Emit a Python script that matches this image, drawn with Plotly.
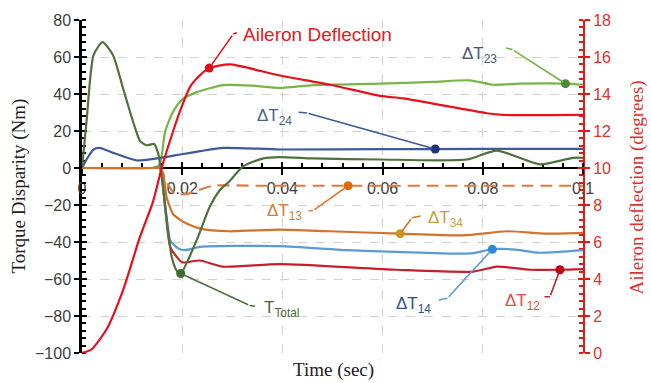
import numpy as np
import plotly.graph_objects as go

# ---------------------------------------------------------------
# Torque disparity between motor pairs (Nm) and aileron deflection
# (degrees) over the first 0.1 s of the manoeuvre
# ---------------------------------------------------------------

# total torque
t_total_t = [0, 0.0009, 0.0023, 0.0041, 0.0062, 0.0082, 0.0102, 0.0116, 0.0129, 0.0144,
             0.0152, 0.0157, 0.0169, 0.0179, 0.0189, 0.0197, 0.0229, 0.0255, 0.0275, 0.0295,
             0.0322, 0.0362, 0.0395, 0.0462, 0.0595, 0.0768, 0.0828, 0.0914, 0.0980, 0.1]
t_total_v = [0, 25, 61, 68, 61, 43, 25, 14.5, 12.3, 13,
             8, 0, -27, -48, -55.5, -57, -39, -21, -12, -7,
             1, 5.2, 5.9, 5.2, 4.6, 4.6, 9.4, 2, 5.5, 5.5]

# motor pair 2-3
dt23_t = [0, 0.0140, 0.0152, 0.0158, 0.0166, 0.0182, 0.0200, 0.0229, 0.0282, 0.0340,
          0.0395, 0.0462, 0.0595, 0.0700, 0.0774, 0.0821, 0.0874, 0.0965, 0.1]
dt23_v = [0, 0, 1, 5, 19.8, 30.5, 37, 41, 44.8, 44.5,
          43.3, 44.8, 45.6, 46.5, 47.4, 45, 45.6, 45.6, 45]

# motor pair 2-4
dt24_t = [0, 0.0010, 0.0023, 0.0035, 0.0062, 0.0109, 0.0149, 0.0196, 0.0236, 0.0282,
          0.0395, 0.0600, 0.0800, 0.1]
dt24_v = [0, 5, 10, 10.9, 8.2, 4.1, 5.2, 7.3, 9.1, 10.9,
          10, 10.2, 10.3, 10.3]

# motor pair 1-3
dt13_t = [0, 0.0140, 0.0155, 0.0170, 0.0185, 0.0210, 0.0229, 0.0262, 0.0350, 0.0500,
          0.0700, 0.0900, 0.1]
dt13_v = [0, 0, 0, -8, -14, -14, -12.3, -9.6, -9.6, -9.6,
          -9.6, -9.6, -9.6]

# motor pair 3-4
dt34_t = [0, 0.0140, 0.0155, 0.0162, 0.0169, 0.0182, 0.0196, 0.0209, 0.0236, 0.0295,
          0.0395, 0.0495, 0.0635, 0.0761, 0.0848, 0.0927, 0.1]
dt34_v = [0, 0, 0, -3, -16, -25, -28, -30, -32.8, -34.2,
          -33.3, -34.2, -35.5, -36.4, -34.2, -35.5, -35.1]

# motor pair 1-4
dt14_t = [0, 0.0140, 0.0155, 0.0160, 0.0166, 0.0176, 0.0192, 0.0206, 0.0236, 0.0395,
          0.0528, 0.0628, 0.0774, 0.0820, 0.0861, 0.0914, 0.1]
dt14_v = [0, 0, 0, -5, -21, -39, -43.5, -44.4, -42.6, -42.2,
          -44.4, -45.3, -46.2, -43.9, -44, -45.8, -44.4]

# motor pair 1-2
dt12_t = [0, 0.0140, 0.0155, 0.0160, 0.0166, 0.0176, 0.0189, 0.0200, 0.0235, 0.0280,
          0.0395, 0.0628, 0.0781, 0.0828, 0.0894, 0.0954, 0.1]
dt12_v = [0, 0, 0, -6, -22, -42.6, -48, -51, -50, -53.3,
          -52, -55, -56, -53.3, -55, -55, -54.7]

# aileron deflection (degrees, right axis)
aileron_t = [0, 0.0019, 0.0049, 0.0082, 0.0116, 0.0142, 0.0159, 0.0182, 0.0196, 0.0216,
             0.0235, 0.0254, 0.0295, 0.0395, 0.0495, 0.0595, 0.0641, 0.0808, 0.0840, 0.1]
aileron_deg = [0, 0.2, 1.28, 3.4, 6.3, 8.2, 10, 12, 13.1, 14.4,
               15.0, 15.4, 15.6, 15.0, 14.5, 13.9, 13.76, 12.96, 12.87, 12.87]

# callout positions along each curve (s)
marker_times = {
    "aileron": 0.0254, "dt23": 0.0965, "dt24": 0.0705, "dt13": 0.0531,
    "dt34": 0.0635, "total": 0.0197, "dt14": 0.0819, "dt12": 0.0954,
}

X_RANGE = [0, 0.1]
Y_RANGE = [-100, 80]
Y2_RANGE = [0, 18]
x_tickvals = [0, 0.02, 0.04, 0.06, 0.08, 0.1]
x_ticktext = ["0", "0.02", "0.04", "0.06", "0.08", "0.1"]

W, H = 651, 383
M = dict(l=82, r=68, t=17, b=30)
PW, PH = W - M["l"] - M["r"], H - M["t"] - M["b"]


def paper_x(px):
    return (px - M["l"]) / PW


def paper_y(py):
    return (H - M["b"] - py) / PH


SANS = "Liberation Sans, Arial, sans-serif"
SERIF = "Liberation Serif, Times New Roman, serif"

# (key, t, v, axis, line colour, dash, marker colour, label, label colour,
#  label anchor, label shift (dx, dy px), elbow (dx, dy px), stub (dx, dy px), font size)
# drawn in this order, so the 3-4 pair ends up on top along the zero line
series = [
    ("dt23", dt23_t, dt23_v, "y", "#78b446", "solid", "#4f8a3a",
     "ΔT<sub>23</sub>", "#4c5470", "right", (-66, -29), (-53, -34), (-61, -36), 17),
    ("dt24", dt24_t, dt24_v, "y", "#3d5a99", "solid", "#1f3378",
     "ΔT<sub>24</sub>", "#4a5f8a", "right", (-141, -32), (-128, -36), (-138, -37), 17),
    ("dt12", dt12_t, dt12_v, "y", "#c4202c", "solid", "#c00010",
     "ΔT<sub>12</sub>", "#e04a4a", "right", (-18, 32), (-10, 27), (-17, 27), 17),
    ("dt14", dt14_t, dt14_v, "y", "#5b9bd5", "solid", "#2f86d6",
     "ΔT<sub>14</sub>", "#2f4f8f", "right", (-59, 56), (-45, 49), (-55, 51), 17),
    ("dt13", dt13_t, dt13_v, "y", "#e07b39", "12px,7px", "#e06a10",
     "ΔT<sub>13</sub>", "#d08040", "right", (-44, 26), (-35, 25), (-41, 25), 17),
    ("dt34", dt34_t, dt34_v, "y", "#d2722c", "solid", "#c8961e",
     "ΔT<sub>34</sub>", "#c8a040", "left", (26, -15), (12, -16), (22, -18), 17),
    ("total", t_total_t, t_total_v, "y", "#4f723c", "solid", "#3f6a30",
     "T<sub>Total</sub>", "#4a6a3a", "left", (81, 36), (69, 32), (76, 33), 17),
    ("aileron", aileron_t, aileron_deg, "y2", "#e8101a", "solid", "#d8101a",
     "Aileron Deflection", "#e02020", "left", (32, -34), (24, -34), (29, -36), 19),
]

fig = go.Figure()
annotations = []

for (key, t, v, axis, lc, dash, mc, label, tc, anchor, lshift, elbow, stub, fs) in series:
    fig.add_trace(go.Scatter(
        x=t, y=v, mode="lines", yaxis=axis, hoverinfo="skip",
        line=dict(color=lc, width=2.2, dash=dash, shape="spline", smoothing=0.6),
        showlegend=False,
    ))
    tm = marker_times[key]
    vm = float(np.interp(tm, t, v))
    fig.add_trace(go.Scatter(
        x=[tm], y=[vm], mode="markers", yaxis=axis, hoverinfo="skip",
        marker=dict(color=mc, size=9), showlegend=False,
    ))
    # leader line: marker -> elbow -> short stub towards the label
    annotations.append(dict(
        x=tm, y=vm, xref="x", yref=axis, text="", showarrow=True,
        arrowhead=0, arrowwidth=1.6, arrowcolor=lc, ax=elbow[0], ay=elbow[1],
        standoff=3,
    ))
    annotations.append(dict(
        x=tm, y=vm, xref="x", yref=axis, text="", showarrow=True,
        arrowhead=0, arrowwidth=1.6, arrowcolor=lc,
        xshift=elbow[0], yshift=-elbow[1],
        ax=stub[0] - elbow[0], ay=stub[1] - elbow[1],
    ))
    annotations.append(dict(
        x=tm, y=vm, xref="x", yref=axis, text=label, showarrow=False,
        xanchor=anchor, yanchor="middle", xshift=lshift[0], yshift=-lshift[1],
        font=dict(family=SANS, size=fs, color=tc),
    ))

# overlay axes give the crossing major ticks
fig.add_trace(go.Scatter(x=[None], y=[None], xaxis="x2", yaxis="y3", showlegend=False))
fig.add_trace(go.Scatter(x=[None], y=[None], xaxis="x2", yaxis="y4", showlegend=False))

pos0 = (0 - Y_RANGE[0]) / (Y_RANGE[1] - Y_RANGE[0])
grid = dict(showgrid=True, gridcolor="#d2d2d2", griddash="dash", gridwidth=1)
tickfont = dict(family=SANS, size=16, color="#404040")

fig.update_layout(
    width=W, height=H, margin=M,
    paper_bgcolor="white", plot_bgcolor="white",
    showlegend=False,
    xaxis=dict(
        range=X_RANGE, anchor="free", position=pos0, layer="below traces",
        tickvals=x_tickvals, ticktext=x_ticktext,
        ticks="outside", ticklen=6, tickwidth=2, tickcolor="black",
        showline=True, linecolor="black", linewidth=2, zeroline=False,
        minor=dict(ticks="inside", dtick=0.004, ticklen=4, tickwidth=1.5,
                   tickcolor="black", showgrid=False),
        tickfont=tickfont, **grid,
    ),
    xaxis2=dict(
        range=X_RANGE, overlaying="x", anchor="free", position=pos0,
        layer="below traces",
        tickvals=x_tickvals, ticks="inside", ticklen=6, tickwidth=2,
        tickcolor="black", showticklabels=False, showgrid=False,
        showline=False, zeroline=False,
    ),
    yaxis=dict(
        range=Y_RANGE, dtick=20, anchor="x", layer="below traces",
        ticks="outside", ticklen=5, tickwidth=2, tickcolor="black",
        showline=True, linecolor="black", linewidth=2.5, zeroline=False,
        minor=dict(ticks="inside", dtick=4, ticklen=4, tickwidth=1.5,
                   tickcolor="black", showgrid=False),
        tickfont=tickfont, **grid,
    ),
    yaxis3=dict(
        range=Y_RANGE, dtick=20, overlaying="y", side="left", anchor="x2",
        layer="below traces",
        ticks="inside", ticklen=5, tickwidth=2, tickcolor="black",
        showticklabels=False, showgrid=False, showline=False, zeroline=False,
    ),
    yaxis2=dict(
        range=Y2_RANGE, dtick=2, overlaying="y", side="right", anchor="x",
        layer="below traces",
        ticks="outside", ticklen=5, tickwidth=2, tickcolor="#e01818",
        showline=True, linecolor="#e01818", linewidth=2, zeroline=False,
        minor=dict(ticks="inside", dtick=0.4, ticklen=4, tickwidth=1.5,
                   tickcolor="#e01818", showgrid=False),
        showgrid=False,
        tickfont=dict(family=SANS, size=16, color="#e03030"),
    ),
    yaxis4=dict(
        range=Y2_RANGE, dtick=2, overlaying="y", side="right", anchor="x2",
        layer="below traces",
        ticks="inside", ticklen=5, tickwidth=2, tickcolor="#e01818",
        showticklabels=False, showgrid=False, showline=False, zeroline=False,
    ),
)

# axis titles
annotations += [
    dict(x=paper_x(18), y=paper_y(185), xref="paper", yref="paper",
         xanchor="center", yanchor="middle",
         text="Torque Disparity (Nm)", textangle=-90, showarrow=False,
         font=dict(family=SERIF, size=19, color="#222222")),
    dict(x=paper_x(637), y=paper_y(186), xref="paper", yref="paper",
         xanchor="center", yanchor="middle",
         text="Aileron deflection (degrees)", textangle=-90, showarrow=False,
         font=dict(family=SERIF, size=19, color="#e03030")),
    dict(x=paper_x(333), y=paper_y(370), xref="paper", yref="paper",
         xanchor="center", yanchor="middle",
         text="Time (sec)", showarrow=False,
         font=dict(family=SERIF, size=19, color="#222222")),
]
fig.update_layout(annotations=annotations)

fig.write_html("out.html")
